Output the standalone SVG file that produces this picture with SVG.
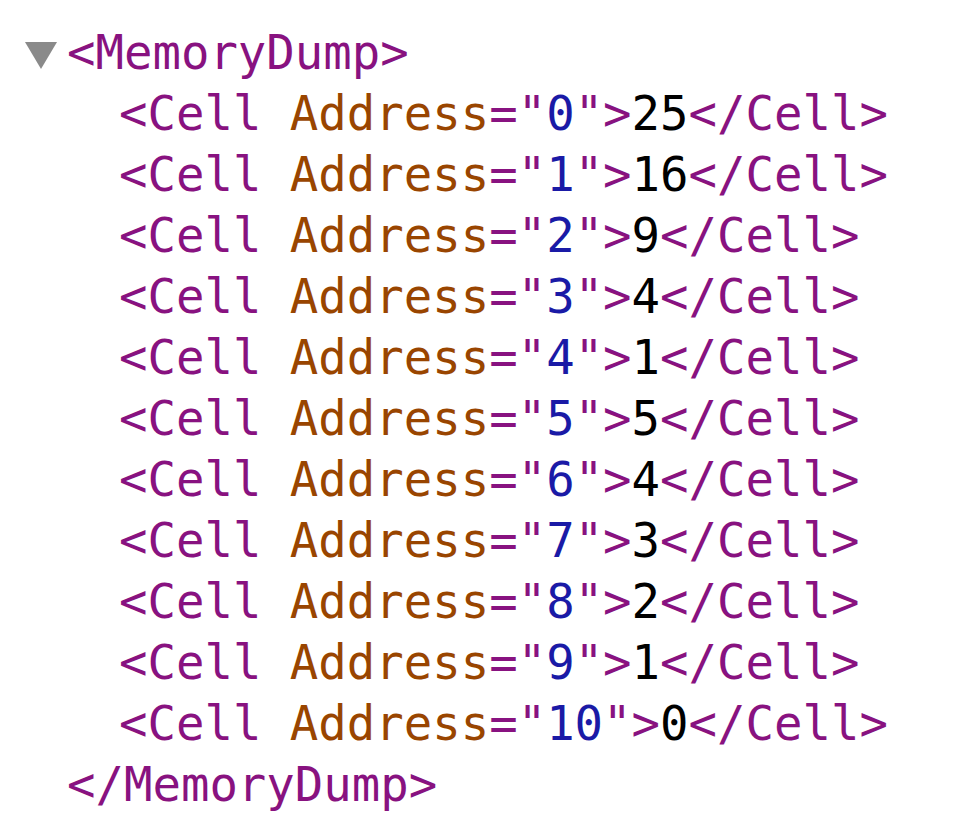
<svg xmlns="http://www.w3.org/2000/svg" width="957" height="829" viewBox="0 0 957 829">
<style>
text{font-family:"DejaVu Sans Mono","Liberation Mono",monospace;font-size:47.3px;white-space:pre}
.t{fill:#881280}.a{fill:#994500}.v{fill:#1a1aa6}.x{fill:#000000}
</style>
<rect width="957" height="829" fill="#ffffff"/>
<g id="root-open">
<polygon points="25,42 57,42 41,69" fill="#8a8a8a"/>
<text x="67" y="69"><tspan class="t">&lt;MemoryDump&gt;</tspan></text>
</g>
<g id="cells">
<text id="cell0" x="119" y="130"><tspan class="t">&lt;Cell </tspan><tspan class="a">Address</tspan><tspan class="t">="</tspan><tspan class="v">0</tspan><tspan class="t">"&gt;</tspan><tspan class="x">25</tspan><tspan class="t">&lt;/Cell&gt;</tspan></text>
<text id="cell1" x="119" y="191"><tspan class="t">&lt;Cell </tspan><tspan class="a">Address</tspan><tspan class="t">="</tspan><tspan class="v">1</tspan><tspan class="t">"&gt;</tspan><tspan class="x">16</tspan><tspan class="t">&lt;/Cell&gt;</tspan></text>
<text id="cell2" x="119" y="252"><tspan class="t">&lt;Cell </tspan><tspan class="a">Address</tspan><tspan class="t">="</tspan><tspan class="v">2</tspan><tspan class="t">"&gt;</tspan><tspan class="x">9</tspan><tspan class="t">&lt;/Cell&gt;</tspan></text>
<text id="cell3" x="119" y="313"><tspan class="t">&lt;Cell </tspan><tspan class="a">Address</tspan><tspan class="t">="</tspan><tspan class="v">3</tspan><tspan class="t">"&gt;</tspan><tspan class="x">4</tspan><tspan class="t">&lt;/Cell&gt;</tspan></text>
<text id="cell4" x="119" y="374"><tspan class="t">&lt;Cell </tspan><tspan class="a">Address</tspan><tspan class="t">="</tspan><tspan class="v">4</tspan><tspan class="t">"&gt;</tspan><tspan class="x">1</tspan><tspan class="t">&lt;/Cell&gt;</tspan></text>
<text id="cell5" x="119" y="435"><tspan class="t">&lt;Cell </tspan><tspan class="a">Address</tspan><tspan class="t">="</tspan><tspan class="v">5</tspan><tspan class="t">"&gt;</tspan><tspan class="x">5</tspan><tspan class="t">&lt;/Cell&gt;</tspan></text>
<text id="cell6" x="119" y="496"><tspan class="t">&lt;Cell </tspan><tspan class="a">Address</tspan><tspan class="t">="</tspan><tspan class="v">6</tspan><tspan class="t">"&gt;</tspan><tspan class="x">4</tspan><tspan class="t">&lt;/Cell&gt;</tspan></text>
<text id="cell7" x="119" y="557"><tspan class="t">&lt;Cell </tspan><tspan class="a">Address</tspan><tspan class="t">="</tspan><tspan class="v">7</tspan><tspan class="t">"&gt;</tspan><tspan class="x">3</tspan><tspan class="t">&lt;/Cell&gt;</tspan></text>
<text id="cell8" x="119" y="618"><tspan class="t">&lt;Cell </tspan><tspan class="a">Address</tspan><tspan class="t">="</tspan><tspan class="v">8</tspan><tspan class="t">"&gt;</tspan><tspan class="x">2</tspan><tspan class="t">&lt;/Cell&gt;</tspan></text>
<text id="cell9" x="119" y="679"><tspan class="t">&lt;Cell </tspan><tspan class="a">Address</tspan><tspan class="t">="</tspan><tspan class="v">9</tspan><tspan class="t">"&gt;</tspan><tspan class="x">1</tspan><tspan class="t">&lt;/Cell&gt;</tspan></text>
<text id="cell10" x="119" y="740"><tspan class="t">&lt;Cell </tspan><tspan class="a">Address</tspan><tspan class="t">="</tspan><tspan class="v">10</tspan><tspan class="t">"&gt;</tspan><tspan class="x">0</tspan><tspan class="t">&lt;/Cell&gt;</tspan></text>
</g>
<g id="root-close">
<text x="67" y="801"><tspan class="t">&lt;/MemoryDump&gt;</tspan></text>
</g>
<g id="connectors"></g>
</svg>
